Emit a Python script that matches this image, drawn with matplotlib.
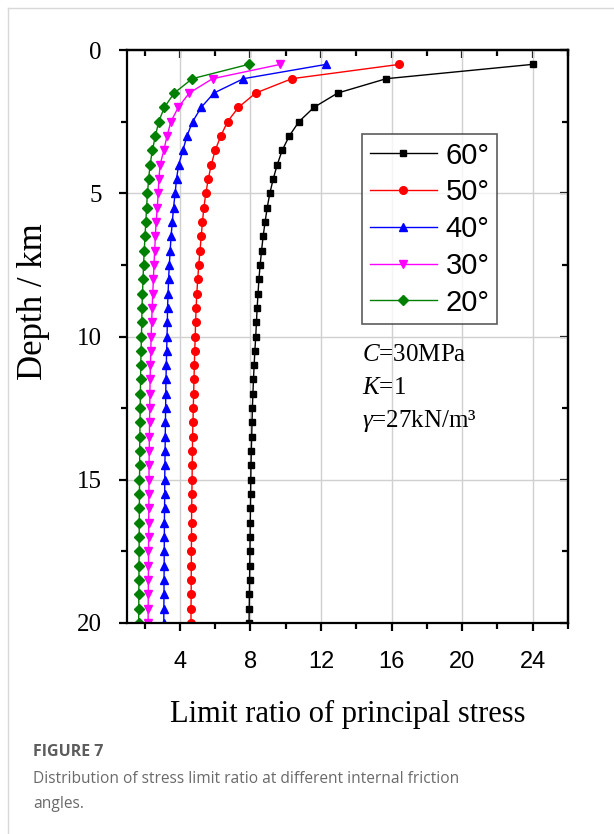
import matplotlib as mpl
import matplotlib.pyplot as plt
from matplotlib.lines import Line2D
from matplotlib.ticker import MultipleLocator

custom_rcparams = {
    "font.family": "Liberation Serif",
    "mathtext.fontset": "custom",
    "mathtext.rm": "Liberation Serif",
    "mathtext.it": "Liberation Serif:italic",
    "axes.linewidth": 1.6,
    "xtick.major.width": 1.6,
    "ytick.major.width": 1.6,
    "xtick.minor.width": 1.6,
    "ytick.minor.width": 1.6,
    "xtick.major.size": 6,
    "ytick.major.size": 6,
    "xtick.minor.size": 4,
    "ytick.minor.size": 4,
    "lines.linewidth": 1,
}
mpl.rcParams.update(custom_rcparams)

# depth (km) for every point
depth = [0.5, 1.0, 1.5, 2.0, 2.5, 3.0, 3.5, 4.0, 4.5, 5.0,
         5.5, 6.0, 6.5, 7.0, 7.5, 8.0, 8.5, 9.0, 9.5, 10.0,
         10.5, 11.0, 11.5, 12.0, 12.5, 13.0, 13.5, 14.0, 14.5, 15.0,
         15.5, 16.0, 16.5, 17.0, 17.5, 18.0, 18.5, 19.0, 19.5, 20.0]

# limit ratio of principal stress for each friction angle
ratio_60 = [24.0, 15.7, 12.95, 11.6, 10.75, 10.2, 9.8, 9.52, 9.29, 9.10,
            8.95, 8.83, 8.72, 8.63, 8.55, 8.48, 8.43, 8.38, 8.34, 8.30,
            8.25, 8.21, 8.17, 8.14, 8.11, 8.09, 8.07, 8.05, 8.03, 8.02,
            8.01, 8.00, 7.99, 7.98, 7.97, 7.96, 7.95, 7.94, 7.93, 7.92]
ratio_50 = [16.45, 10.35, 8.3, 7.32, 6.70, 6.32, 6.0, 5.78, 5.61, 5.47,
            5.36, 5.28, 5.21, 5.14, 5.07, 5.01, 4.96, 4.92, 4.89, 4.87,
            4.84, 4.82, 4.80, 4.78, 4.76, 4.74, 4.72, 4.71, 4.70, 4.69,
            4.68, 4.67, 4.66, 4.66, 4.65, 4.65, 4.64, 4.64, 4.63, 4.63]
ratio_40 = [12.3, 7.6, 5.93, 5.21, 4.72, 4.40, 4.17, 3.93, 3.81, 3.73,
            3.64, 3.57, 3.50, 3.45, 3.40, 3.36, 3.33, 3.30, 3.29, 3.27,
            3.25, 3.23, 3.21, 3.20, 3.19, 3.18, 3.17, 3.16, 3.15, 3.14,
            3.14, 3.13, 3.12, 3.12, 3.11, 3.11, 3.10, 3.10, 3.09, 3.09]
ratio_30 = [9.7, 5.85, 4.53, 3.91, 3.49, 3.27, 3.09, 2.88, 2.81, 2.77,
            2.72, 2.65, 2.61, 2.57, 2.53, 2.50, 2.46, 2.43, 2.40, 2.37,
            2.35, 2.33, 2.31, 2.30, 2.29, 2.28, 2.27, 2.26, 2.25, 2.25,
            2.24, 2.24, 2.23, 2.23, 2.22, 2.22, 2.21, 2.21, 2.20, 2.20]
ratio_20 = [7.9, 4.7, 3.68, 3.12, 2.80, 2.61, 2.44, 2.31, 2.23, 2.16,
            2.11, 2.07, 2.02, 1.98, 1.94, 1.91, 1.88, 1.85, 1.84, 1.82,
            1.80, 1.78, 1.77, 1.76, 1.75, 1.74, 1.73, 1.72, 1.72, 1.71,
            1.71, 1.70, 1.70, 1.69, 1.69, 1.68, 1.68, 1.67, 1.67, 1.66]

labels = ["60°", "50°", "40°", "30°", "20°"]
x_ticks = [4, 8, 12, 16, 20, 24]
y_ticks = [0, 5, 10, 15, 20]

fig = plt.figure(figsize=(6.14, 8.34), dpi=100)
ax = fig.add_axes([0.2068, 0.253, 0.7182, 0.687])

series = [ratio_60, ratio_50, ratio_40, ratio_30, ratio_20]
colors = ["black", "#ff0000", "#0000ff", "#ff00ff", "#008000"]
markers = ["s", "o", "^", "v", "D"]
msizes = [5, 5.5, 5.5, 5.5, 4.8]
for vals, c, m, ms, lab in zip(series, colors, markers, msizes, labels):
    ax.plot(vals, depth, "-", color=c, marker=m, ms=ms, mec=c, mfc=c, lw=1, label=lab)

ax.set_xlim(1, 26)
ax.set_ylim(20, 0)
ax.set_xticks(x_ticks)
ax.set_yticks(y_ticks)
ax.xaxis.set_minor_locator(MultipleLocator(4, offset=2))
ax.yaxis.set_minor_locator(MultipleLocator(2.5))
ax.tick_params(which="both", direction="out")
ax.tick_params(axis="x", labelsize=17, labelfontfamily="Liberation Sans", pad=14)
ax.tick_params(axis="y", labelsize=18, labelfontfamily="Liberation Serif", pad=12)
ax.grid(True, which="major", color="#d0d0d0", lw=1)
ax.set_axisbelow(True)

# mirrored ticks, pointing inward
top = ax.secondary_xaxis("top")
top.set_xticks(x_ticks)
top.xaxis.set_minor_locator(MultipleLocator(4, offset=2))
top.tick_params(which="both", direction="in", labeltop=False)
right = ax.secondary_yaxis("right")
right.set_yticks(y_ticks)
right.yaxis.set_minor_locator(MultipleLocator(2.5))
right.tick_params(which="both", direction="in", labelright=False)

ax.set_xlabel("Limit ratio of principal stress", fontsize=22)
ax.set_ylabel("Depth / km", fontsize=25)
ax.xaxis.set_label_coords(0.5, -0.135)
ax.yaxis.set_label_coords(-0.175, 0.56)

leg = ax.legend(loc="upper left", bbox_to_anchor=(0.534, 0.853),
                prop={"family": "Liberation Sans", "size": 21},
                frameon=True, fancybox=False, edgecolor="#333333",
                handlelength=2.3, handletextpad=0.3, labelspacing=0.3,
                borderpad=0.25, borderaxespad=0, markerscale=1.0)
leg.get_frame().set_linewidth(1.2)

ax.text(0.534, 0.467, "$C$=30MPa", transform=ax.transAxes, fontsize=18, va="center")
ax.text(0.534, 0.41, "$K$=1", transform=ax.transAxes, fontsize=18, va="center")
ax.text(0.534, 0.353, "$\\gamma$=27kN/m³", transform=ax.transAxes, fontsize=18, va="center")

# caption and card border
fig.text(0.054, 0.0985, "FIGURE 7", family="Open Sans", weight="bold",
         fontsize=11.5, color="#5c5c5c", va="center")
fig.text(0.054, 0.066, "Distribution of stress limit ratio at different internal friction",
         family="Open Sans", fontsize=11.2, color="#6a6a6a", va="center")
fig.text(0.054, 0.036, "angles.", family="Open Sans", fontsize=11.2, color="#6a6a6a", va="center")
fig.add_artist(Line2D([0.013, 0.013], [0, 0.99], color="#d8d8d8", lw=1))
fig.add_artist(Line2D([0.013, 1], [0.99, 0.99], color="#d8d8d8", lw=1))

fig.savefig("out.png", dpi=100)
